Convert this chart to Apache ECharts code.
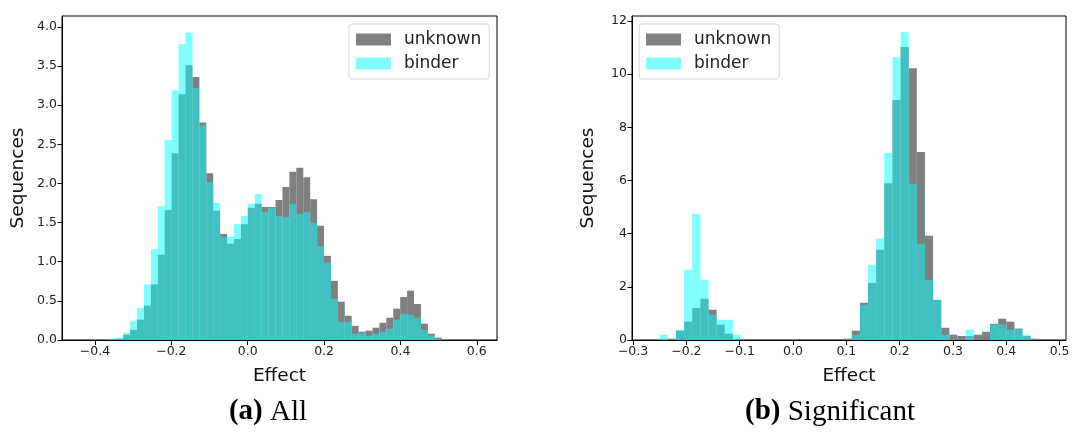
<!DOCTYPE html>
<html>
<head>
<meta charset="utf-8">
<script src="https://cdn.jsdelivr.net/npm/echarts@6/dist/echarts.min.js"></script>
<style>
  html, body { margin: 0; padding: 0; background: #fff; }
  #chart { width: 1073px; height: 434px; }
</style>
</head>
<body>
<div id="chart"></div>
<script>
// (a) All: one run of bins
const allStart = -0.3625
const allBinWidth = 0.01814
const allUnknown = [
  0.01, 0.017, 0.068, 0.13, 0.26, 0.44, 0.71, 1.09, 1.66, 2.385, 3.14, 3.51,
  3.36, 2.78, 2.13, 1.65, 1.356, 1.23, 1.29, 1.48, 1.69, 1.74, 1.70, 1.70,
  1.79, 1.955, 2.15, 2.20, 2.08, 1.80, 1.46, 1.075, 0.756, 0.49, 0.31, 0.18,
  0.106, 0.12, 0.157, 0.22, 0.285, 0.40, 0.55, 0.63, 0.46, 0.208, 0.08, 0.03
]
const allBinder = [
  0.02, 0.03, 0.093, 0.246, 0.41, 0.71, 1.16, 1.71, 2.555, 3.19, 3.78, 3.93,
  3.22, 2.74, 2.02, 1.75, 1.32, 1.32, 1.48, 1.585, 1.74, 1.865, 1.64, 1.69,
  1.585, 1.57, 1.74, 1.61, 1.64, 1.50, 1.20, 0.99, 0.527, 0.233, 0.233, 0.08,
  0.093, 0.055, 0.08, 0.106, 0.144, 0.26, 0.335, 0.32, 0.285, 0.13, 0.055, 0.017
]

// (b) Significant: negative and positive clusters
const sigBinWidth = 0.01525
const sigNegStart = -0.25
const sigUnknownNeg = [0, 0.05, 0.35, 0.69, 1.21, 1.55, 1.14, 0.58, 0.24, 0.04]
const sigBinderNeg = [0.2, 0, 0.39, 2.64, 4.74, 2.26, 0.95, 0.76, 0.76, 0.2]
const sigPosStart = 0.095
const sigUnknownPos = [
  0.05, 0.35, 1.40, 2.15, 3.4, 5.9, 9.03, 11.02, 10.22, 7.07, 3.92, 1.51,
  0.46, 0.2, 0.15, 0.15, 0.2, 0.31, 0.61, 0.8, 0.69, 0.43, 0.15, 0.05
]
const sigBinderPos = [
  0, 0.2, 1.33, 2.83, 3.81, 7.04, 10.64, 11.58, 5.88, 3.62, 2.26, 1.51,
  0.2, 0, 0, 0.39, 0, 0, 0.58, 0.58, 0.39, 0.41, 0.2, 0
]

const allTicksX = [-0.4, -0.2, 0.0, 0.2, 0.4, 0.6]
const allTicksY = [0, 0.5, 1, 1.5, 2, 2.5, 3, 3.5, 4]
const sigTicksX = [-0.3, -0.2, -0.1, 0.0, 0.1, 0.2, 0.3, 0.4, 0.5]
const sigTicksY = [0, 2, 4, 6, 8, 10, 12]

const GRAY = '#808080'
const CYAN = 'rgba(0,255,255,0.5)'
const FONT = 'DejaVu Sans'
const SERIF = 'Liberation Serif'

const makeBins = (start, width, heights) =>
  heights.map((h, i) => [start + i * width, start + (i + 1) * width, h])

const renderBar = (params, api) => {
  const top = api.coord([api.value(0), api.value(2)])
  const base = api.coord([api.value(1), 0])
  return {
    type: 'rect',
    shape: { x: top[0], y: top[1], width: base[0] - top[0], height: base[1] - top[1] },
    style: api.style()
  }
}

const fmt1 = (v) => (v < 0 ? '\u2212' : '') + Math.abs(v).toFixed(1)

const xAxisBase = (grid, min, max, ticks) => ({
  type: 'value',
  gridIndex: grid,
  min, max,
  name: 'Effect',
  nameLocation: 'middle',
  nameGap: 27,
  nameTextStyle: { fontFamily: FONT, fontSize: 18.5, color: '#111' },
  axisLine: { show: true, onZero: false, lineStyle: { color: '#000', width: 1 } },
  axisTick: { show: true, length: 5, customValues: ticks, lineStyle: { color: '#000' } },
  axisLabel: { customValues: ticks, formatter: fmt1, fontFamily: FONT, fontSize: 12.5, color: '#222', margin: 5 },
  splitLine: { show: false }
})

const yAxisBase = (grid, max, ticks, formatter) => ({
  type: 'value',
  gridIndex: grid,
  min: 0, max,
  name: 'Sequences',
  nameLocation: 'middle',
  nameGap: 34,
  nameTextStyle: { fontFamily: FONT, fontSize: 18.5, color: '#111' },
  axisLine: { show: true, onZero: false, lineStyle: { color: '#000', width: 1 } },
  axisTick: { show: true, length: 4.5, customValues: ticks, lineStyle: { color: '#000' } },
  axisLabel: { customValues: ticks, formatter, fontFamily: FONT, fontSize: 12.5, color: '#222', margin: 5 },
  splitLine: { show: false }
})

const legendBase = (left) => ({
  left, top: 24,
  orient: 'vertical',
  selectedMode: false,
  backgroundColor: 'rgba(255,255,255,0.8)',
  borderColor: '#d6d6d6',
  borderWidth: 1,
  borderRadius: 3,
  padding: [6, 8, 6, 7],
  itemWidth: 35,
  itemHeight: 12,
  itemGap: 5,
  icon: 'rect',
  textStyle: { fontFamily: FONT, fontSize: 17, color: '#222', lineHeight: 19, padding: [0, 0, 0, 8] },
  data: ['unknown', 'binder']
})

const histSeries = (name, color, xi, data) => ({
  name,
  type: 'custom',
  xAxisIndex: xi,
  yAxisIndex: xi,
  renderItem: renderBar,
  encode: { x: [0, 1], y: 2 },
  itemStyle: { color },
  clip: true,
  data
})

const caption = (x, label, rest) => ({
  type: 'text', x, y: 412,
  style: {
    text: '{b|' + label + '} ' + rest, align: 'center', verticalAlign: 'middle',
    fontFamily: SERIF, fontSize: 29, fill: '#000',
    rich: { b: { fontFamily: SERIF, fontSize: 29, fontWeight: 'bold', fill: '#000' } }
  }
})

const chart = echarts.init(document.getElementById('chart'), null, { renderer: 'canvas' })
chart.setOption({
  animation: false,
  backgroundColor: '#fff',
  grid: [
    { left: 62, right: 576, top: 16, bottom: 94, show: true, borderColor: '#000', borderWidth: 1 },
    { left: 632, right: 7, top: 16, bottom: 94, show: true, borderColor: '#000', borderWidth: 1 }
  ],
  xAxis: [
    xAxisBase(0, -0.4865, 0.653, allTicksX),
    xAxisBase(1, -0.302, 0.512, sigTicksX)
  ],
  yAxis: [
    yAxisBase(0, 4.14, allTicksY, fmt1),
    yAxisBase(1, 12.19, sigTicksY, (v) => String(v))
  ],
  legend: [legendBase(349), legendBase(639)],
  series: [
    histSeries('unknown', GRAY, 0, makeBins(allStart, allBinWidth, allUnknown)),
    histSeries('binder', CYAN, 0, makeBins(allStart, allBinWidth, allBinder)),
    histSeries('unknown', GRAY, 1,
      makeBins(sigNegStart, sigBinWidth, sigUnknownNeg).concat(makeBins(sigPosStart, sigBinWidth, sigUnknownPos))),
    histSeries('binder', CYAN, 1,
      makeBins(sigNegStart, sigBinWidth, sigBinderNeg).concat(makeBins(sigPosStart, sigBinWidth, sigBinderPos)))
  ],
  graphic: [
    caption(268, '(a)', 'All'),
    caption(830, '(b)', 'Significant')
  ]
})
</script>
</body>
</html>
